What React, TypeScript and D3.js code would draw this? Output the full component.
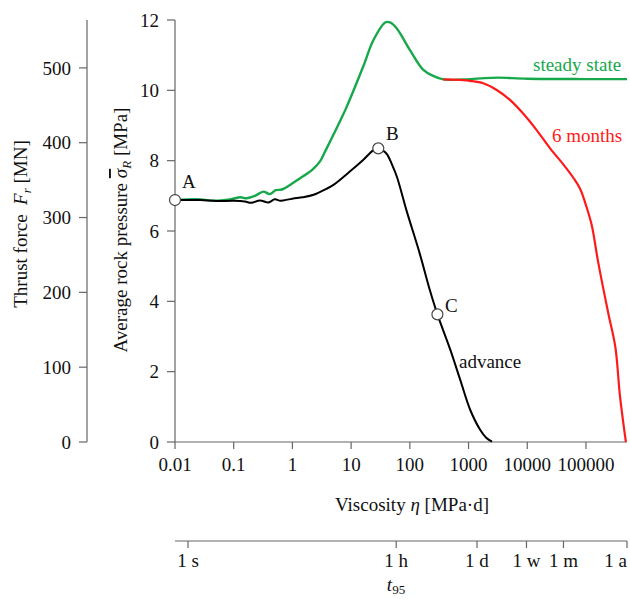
import React from "react";
import * as d3 from "d3";

// ---- data ----
// viscosity η [MPa·d] and average rock pressure σR [MPa]
const advanceEta = [0.01, 0.027, 0.051, 0.1, 0.155, 0.2, 0.28, 0.39, 0.5, 0.62, 0.7, 1.0, 1.5, 2.3, 3.8, 5.0, 9.5, 16, 24, 29, 35.5, 41, 50, 60, 89, 148, 219, 295, 490, 724, 1070, 1585, 2000, 2510];
const advanceSigma = [6.88, 6.88, 6.85, 6.86, 6.84, 6.80, 6.87, 6.81, 6.90, 6.86, 6.87, 6.92, 6.96, 7.03, 7.2, 7.31, 7.69, 8.02, 8.30, 8.35, 8.28, 8.18, 7.88, 7.55, 6.55, 5.35, 4.32, 3.63, 2.62, 1.76, 0.91, 0.34, 0.12, 0.01];

const steadyEta = [0.01, 0.027, 0.045, 0.087, 0.13, 0.166, 0.23, 0.32, 0.41, 0.52, 0.66, 0.91, 1.35, 1.74, 2.24, 2.95, 3.6, 4.4, 6.9, 8.4, 16, 24, 38, 46, 60, 100, 170, 250, 370, 810, 1585, 3160, 10000, 100000, 500000];
const steadySigma = [6.88, 6.90, 6.86, 6.90, 6.96, 6.93, 7.0, 7.12, 7.05, 7.16, 7.18, 7.31, 7.50, 7.62, 7.76, 7.98, 8.26, 8.55, 9.22, 9.53, 10.67, 11.43, 11.93, 11.93, 11.76, 11.15, 10.58, 10.41, 10.31, 10.31, 10.34, 10.36, 10.33, 10.32, 10.32];

const sixMonthsEta = [370, 810, 1060, 1780, 3020, 5130, 8500, 14450, 24500, 41700, 61700, 79400, 102000, 126000, 162000, 240000, 316000, 380000, 479000];
const sixMonthsSigma = [10.31, 10.29, 10.27, 10.2, 10.01, 9.72, 9.34, 8.87, 8.35, 7.88, 7.5, 7.2, 6.69, 6.15, 5.1, 3.66, 2.71, 1.3, 0];

const pointNames = ["A", "B", "C"];
const pointEta = [0.01, 29, 295];
const pointSigma = [6.88, 8.35, 3.63];

const etaTicks = [0.01, 0.1, 1, 10, 100, 1000, 10000, 100000];
const etaTickLabels = ["0.01", "0.1", "1", "10", "100", "1000", "10000", "100000"];
const sigmaTicks = [0, 2, 4, 6, 8, 10, 12];
const thrustTicks = [0, 100, 200, 300, 400, 500];
// t95 ticks in seconds
const timeTickLabels = ["1 s", "1 h", "1 d", "1 w", "1 m", "1 a"];
const timeTickSeconds = [1, 3600, 86400, 604800, 2592000, 31536000];

const GREEN = "#17a84b";
const RED = "#ff1a1a";
const AXIS = "#666";
const FONT = "'Liberation Serif', 'Times New Roman', serif";

export default function App() {
  const x = d3.scaleLog().domain([0.01, 500000]).range([175, 627]);
  const y = d3.scaleLinear().domain([0, 12]).range([442, 20]);
  const yF = d3.scaleLinear().domain([0, 564]).range([442, 20]);
  const xT = d3.scaleLog().domain([1, 31536000]).range([188, 627]);

  const line = d3
    .line<[number, number]>()
    .x((d) => x(d[0]))
    .y((d) => y(d[1]))
    .curve(d3.curveCatmullRom.alpha(0.5));

  const zip = (a: number[], b: number[]) => a.map((v, i) => [v, b[i]] as [number, number]);

  const fs = 19;

  return (
    <svg
      width={630}
      height={599}
      style={{ position: "absolute", left: 0, top: 0, background: "#fff" }}
      fontFamily={FONT}
      fontSize={fs}
    >
      <rect x={0} y={0} width={630} height={599} fill="#fff" />

      {/* thrust force axis */}
      <line x1={87} x2={87} y1={yF(0)} y2={20} stroke={AXIS} strokeWidth={1.2} />
      {thrustTicks.map((t) => (
        <g key={"f" + t}>
          <line x1={79} x2={87} y1={yF(t)} y2={yF(t)} stroke={AXIS} strokeWidth={1.2} />
          <text x={71} y={yF(t)} dy="0.35em" textAnchor="end" fill="#111">
            {t}
          </text>
        </g>
      ))}
      <text transform="translate(27,224) rotate(-90)" textAnchor="middle" fill="#111">
        Thrust force{"\u00a0\u00a0"}
        <tspan fontStyle="italic">F</tspan>
        <tspan fontStyle="italic" fontSize={13} dy={4}>r</tspan>
        <tspan dy={-4}> [MN]</tspan>
      </text>

      {/* rock pressure axis */}
      <line x1={175} x2={175} y1={y(0)} y2={y(12)} stroke={AXIS} strokeWidth={1.2} />
      {sigmaTicks.map((t) => (
        <g key={"s" + t}>
          <line x1={167} x2={175} y1={y(t)} y2={y(t)} stroke={AXIS} strokeWidth={1.2} />
          <text x={159} y={y(t)} dy="0.35em" textAnchor="end" fill="#111">
            {t}
          </text>
        </g>
      ))}
      <text transform="translate(127,230) rotate(-90)" textAnchor="middle" fill="#111">
        Average rock pressure{" "}
        <tspan fontStyle="italic" textDecoration="overline" style={{ textDecoration: "overline" }}>σ</tspan>
        <tspan fontStyle="italic" fontSize={13} dy={4}>R</tspan>
        <tspan dy={-4}> [MPa]</tspan>
      </text>

      {/* viscosity axis */}
      <line x1={175} x2={627} y1={442} y2={442} stroke={AXIS} strokeWidth={1.2} />
      {etaTicks.map((t, i) => (
        <g key={"e" + t}>
          <line x1={x(t)} x2={x(t)} y1={442} y2={449} stroke={AXIS} strokeWidth={1.2} />
          <text x={x(t)} y={471} textAnchor="middle" fill="#111">
            {etaTickLabels[i]}
          </text>
        </g>
      ))}
      <text x={412} y={511} textAnchor="middle" fill="#111">
        Viscosity <tspan fontStyle="italic">η</tspan> [MPa·d]
      </text>

      {/* t95 axis */}
      <line x1={175} x2={627} y1={541} y2={541} stroke={AXIS} strokeWidth={1.2} />
      {timeTickSeconds.map((s, i) => (
        <g key={"t" + i}>
          <line x1={xT(s)} x2={xT(s)} y1={541} y2={548} stroke={AXIS} strokeWidth={1.2} />
          <text
            x={i === timeTickSeconds.length - 1 ? 627 : xT(s)}
            y={567}
            textAnchor={i === timeTickSeconds.length - 1 ? "end" : "middle"}
            fill="#111"
          >
            {timeTickLabels[i]}
          </text>
        </g>
      ))}
      <text x={396} y={591} textAnchor="middle" fill="#111">
        <tspan fontStyle="italic">t</tspan>
        <tspan fontSize={13} dy={3}>95</tspan>
      </text>

      {/* curves */}
      <path d={line(zip(steadyEta, steadySigma)) || ""} fill="none" stroke={GREEN} strokeWidth={2.4} />
      <path d={line(zip(sixMonthsEta, sixMonthsSigma)) || ""} fill="none" stroke={RED} strokeWidth={2.2} />
      <path d={line(zip(advanceEta, advanceSigma)) || ""} fill="none" stroke="#000" strokeWidth={2} />

      {/* points */}
      {pointNames.map((n, i) => (
        <circle key={n} cx={x(pointEta[i])} cy={y(pointSigma[i])} r={5.5} fill="#fff" stroke="#444" strokeWidth={1.2} />
      ))}
      <text x={182} y={188} fill="#111">A</text>
      <text x={386} y={140} fill="#111">B</text>
      <text x={445} y={312} fill="#111">C</text>

      {/* curve labels */}
      <text x={459} y={368} fill="#111">advance</text>
      <text x={533} y={71} fill={GREEN}>steady state</text>
      <text x={552} y={142} fill={RED}>6 months</text>
    </svg>
  );
}
